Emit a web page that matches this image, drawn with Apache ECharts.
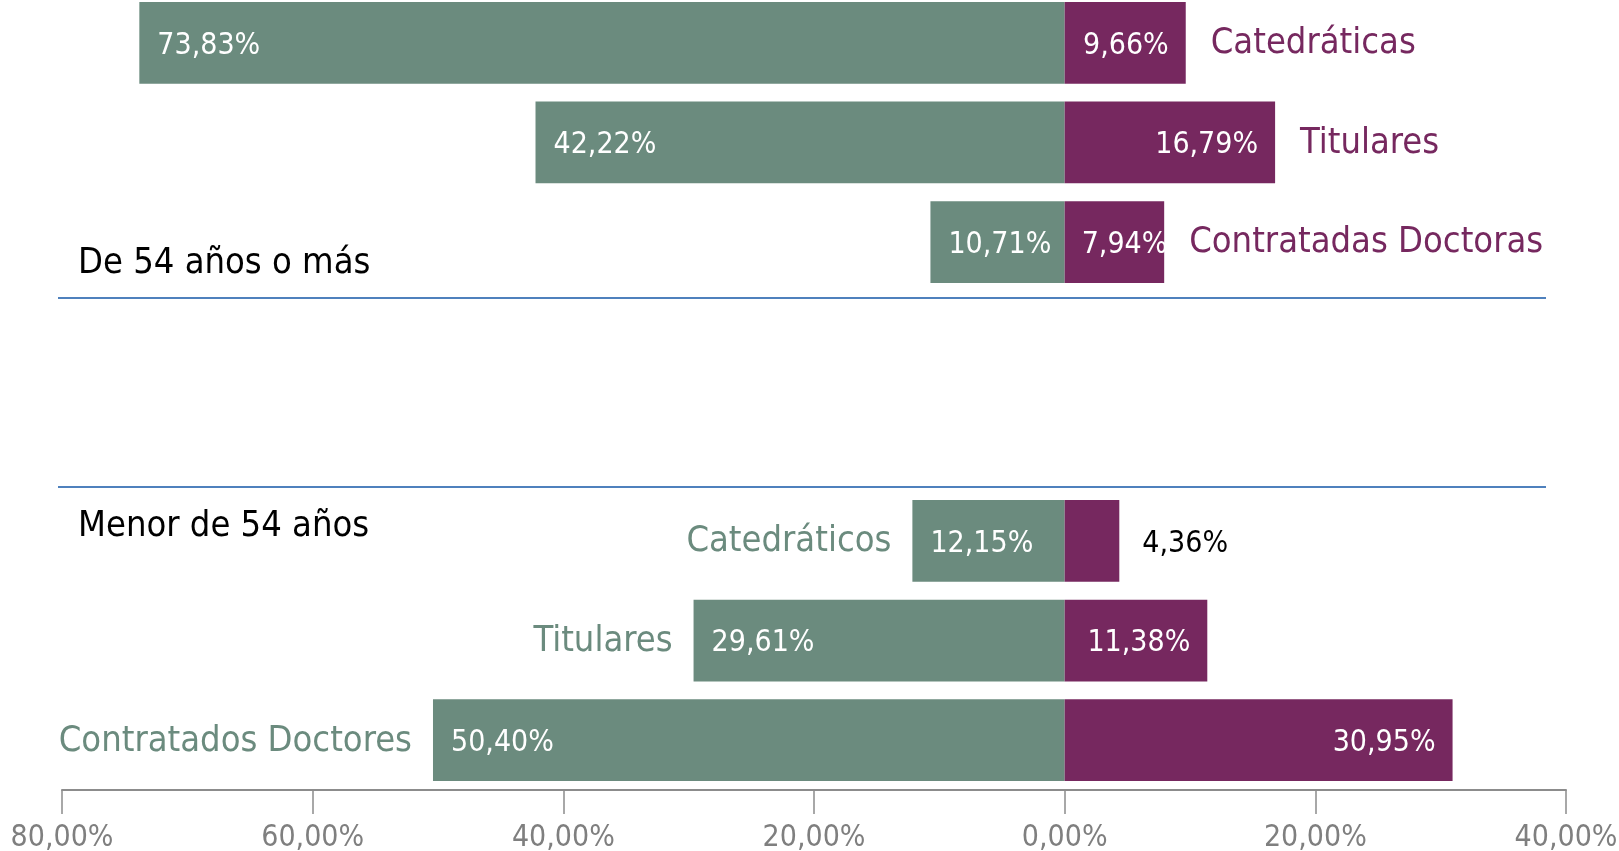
<!DOCTYPE html>
<html>
<head>
<meta charset="utf-8">
<script src="https://cdn.jsdelivr.net/npm/echarts@6/dist/echarts.min.js"></script>
<style>
  html, body { margin: 0; padding: 0; background: #fff; }
  #container { width: 1619px; height: 851px; }
</style>
</head>
<body>
<div id="container"></div>
<script>
// filas de arriba a abajo; las dos vacias hacen de hueco entre grupos
var categorias = ['Catedráticas', 'Titulares', 'Contratadas Doctoras', '', '', 'Catedráticos', 'Titulares', 'Contratados Doctores'];
var hombres = [73.83, 42.22, 10.71, null, null, 12.15, 29.61, 50.40];
var mujeres = [9.66, 16.79, 7.94, null, null, 4.36, 11.38, 30.95];
// donde va el nombre de la fila: 'm' a la derecha (morado), 'h' a la izquierda (verde)
var ladoNombre = ['m', 'm', 'm', '', '', 'h', 'h', 'h'];
var grupos = ['De 54 años o más', 'Menor de 54 años'];
var ejeMin = -80, ejeMax = 40, ejeIntervalo = 20;

var VERDE = '#6b8b7e';
var MORADO = '#76285f';
var FUENTE = "'DejaVu Sans Condensed', 'DejaVu Sans', sans-serif";

function fmt(v) {
    return Math.abs(v).toFixed(2).replace('.', ',') + '%';
}

var myChart = echarts.init(document.getElementById('container'));

var datosHombres = hombres.map(function (v) { return v == null ? '-' : -v; });
var datosMujeres = mujeres.map(function (v) {
    if (v == null) return '-';
    var lab = { position: 'insideRight', color: '#fff' };
    if (v < 5) {
        lab = { position: 'right', color: '#000', distance: 23 };
    } else if (v < 9) {
        lab = { position: 'insideLeft', color: '#fff' };
    }
    return { value: v, label: lab };
});
var nombresMujeres = mujeres.map(function (v, i) { return ladoNombre[i] == 'm' ? v : '-'; });
var nombresHombres = hombres.map(function (v, i) { return ladoNombre[i] == 'h' ? -v : '-'; });

var option = {
    animation: false,
    grid: {
        left: 62,
        right: 53,
        bottom: 61,
        height: 797,
        outerBoundsMode: 'none',
        containLabel: false
    },
    xAxis: {
        type: 'value',
        min: ejeMin,
        max: ejeMax,
        interval: ejeIntervalo,
        splitLine: { show: false },
        axisLine: { show: true, lineStyle: { color: '#8c8c8c', width: 2 } },
        axisTick: { show: true, length: 24, lineStyle: { color: '#8c8c8c', width: 1.5 } },
        axisLabel: {
            formatter: fmt,
            color: '#7f7f7f',
            fontFamily: FUENTE,
            fontSize: 30,
            margin: 33
        }
    },
    yAxis: {
        type: 'category',
        inverse: true,
        data: categorias,
        show: false
    },
    series: [
        {
            name: 'Hombres',
            type: 'bar',
            barWidth: '82%',
            barGap: '-100%',
            data: datosHombres,
            itemStyle: { color: VERDE },
            label: {
                show: true,
                position: 'insideLeft',
                distance: 18,
                offset: [0, 3],
                color: '#fff',
                fontFamily: FUENTE,
                fontSize: 30,
                formatter: function (p) { return fmt(p.value); }
            }
        },
        {
            name: 'Mujeres',
            type: 'bar',
            barWidth: '82%',
            barGap: '-100%',
            data: datosMujeres,
            itemStyle: { color: MORADO },
            label: {
                show: true,
                distance: 17,
                offset: [0, 3],
                fontFamily: FUENTE,
                fontSize: 30,
                formatter: function (p) { return fmt(p.value); }
            }
        },
        {
            // nombres a la derecha de las barras moradas
            type: 'bar',
            barWidth: '82%',
            barGap: '-100%',
            silent: true,
            data: nombresMujeres,
            itemStyle: { color: 'rgba(0,0,0,0)' },
            label: {
                show: true,
                position: 'right',
                distance: 25,
                color: MORADO,
                fontFamily: FUENTE,
                fontSize: 36,
                offset: [0, 1],
                formatter: function (p) { return p.name; }
            }
        },
        {
            // nombres a la izquierda de las barras verdes
            type: 'bar',
            barWidth: '82%',
            barGap: '-100%',
            silent: true,
            data: nombresHombres,
            itemStyle: { color: 'rgba(0,0,0,0)' },
            label: {
                show: true,
                position: 'left',
                distance: 21,
                color: VERDE,
                fontFamily: FUENTE,
                fontSize: 36,
                offset: [0, 1],
                formatter: function (p) { return p.name; }
            }
        }
    ],
    graphic: [
        {
            type: 'line',
            shape: { x1: 58, y1: 298, x2: 1546, y2: 298 },
            style: { stroke: '#4f81bd', lineWidth: 2 }
        },
        {
            type: 'line',
            shape: { x1: 58, y1: 487, x2: 1546, y2: 487 },
            style: { stroke: '#4f81bd', lineWidth: 2 }
        },
        {
            type: 'text',
            left: 78,
            top: 246,
            style: { text: grupos[0], fill: '#000', font: '36px ' + FUENTE }
        },
        {
            type: 'text',
            left: 78,
            top: 509,
            style: { text: grupos[1], fill: '#000', font: '36px ' + FUENTE }
        }
    ]
};

myChart.setOption(option);
</script>
</body>
</html>
